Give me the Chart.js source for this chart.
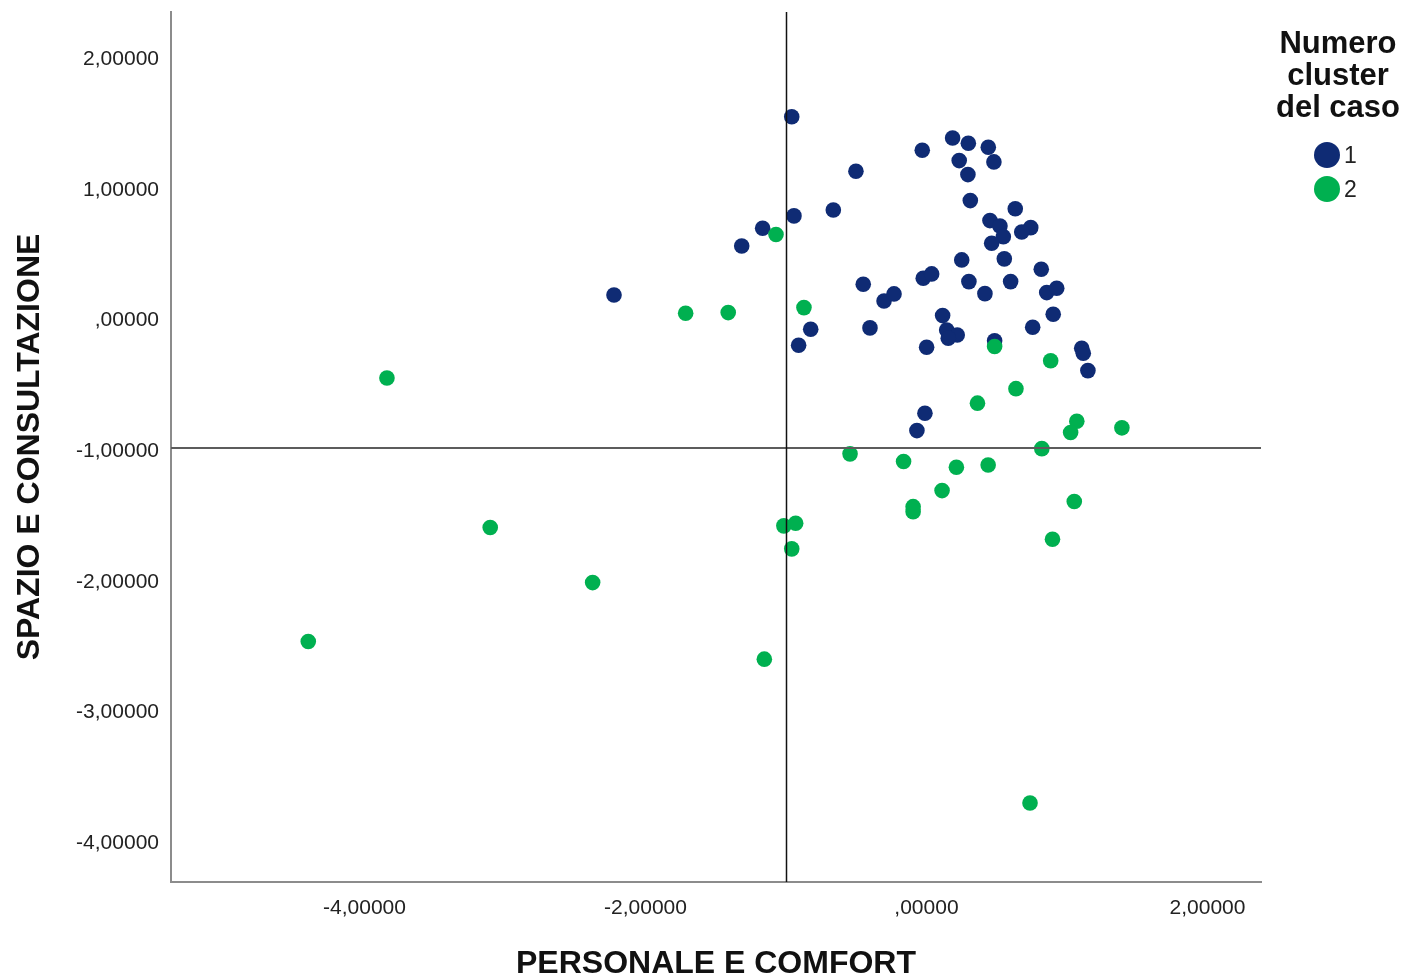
<!DOCTYPE html>
<html lang="it">
<head>
<meta charset="utf-8">
<title>Numero cluster del caso</title>
<script src="https://cdn.jsdelivr.net/npm/chart.js@4/dist/chart.umd.min.js"></script>
<style>
  html, body { margin: 0; padding: 0; background: #ffffff; }
  #wrap { position: relative; width: 1405px; height: 979px; }
  #chart { position: absolute; left: 0; top: 0; }
  #legend {
    position: absolute; left: 1264px; top: 27px; width: 148px;
    font-family: "Liberation Sans", Arial, sans-serif; color: #111;
  }
  #legend .title {
    font-weight: bold; font-size: 31px; line-height: 32px; text-align: center;
  }
  #legend .items { margin-top: 15px; margin-left: 50px; }
  #legend .item { display: flex; align-items: center; height: 34px; }
  #legend .dot { width: 26px; height: 26px; border-radius: 50%; margin-right: 4px; }
  #legend .lab { font-size: 23px; color: #222; }
</style>
</head>
<body>
<div id="wrap">
  <canvas id="chart" width="1405" height="979"></canvas>
  <div id="legend"></div>
</div>
<script>
// Cluster 1 cases: PERSONALE E COMFORT (x) / SPAZIO E CONSULTAZIONE (y)
const cluster1X = [-0.959, -0.502, -0.663, -0.943, -1.166, -1.315, -2.224, -0.030, 0.186, 0.298,
                   0.440, 0.233, 0.480, 0.295, 0.312, 0.632, 0.452, 0.523, 0.742, 0.678,
                   0.547, 0.464, 0.251, 0.554, -0.450, -0.302, -0.231, -0.023, 0.037, 0.302,
                   0.416, 0.599, 0.817, 0.856, 0.927, 0.115, 0.144, 0.219, 0.155, -0.402,
                   -0.824, -0.910, 0.001, 0.485, 0.756, 0.902, 1.105, 1.116, 1.149, -0.011,
                   -0.068];
const cluster1Y = [1.536, 1.119, 0.822, 0.777, 0.682, 0.547, 0.172, 1.279, 1.373, 1.333,
                   1.302, 1.200, 1.190, 1.093, 0.894, 0.832, 0.741, 0.700, 0.687, 0.654,
                   0.618, 0.568, 0.440, 0.448, 0.254, 0.126, 0.180, 0.300, 0.333, 0.274,
                   0.182, 0.274, 0.369, 0.190, 0.223, 0.014, -0.096, -0.134, -0.159, -0.080,
                   -0.090, -0.213, -0.228, -0.178, -0.075, 0.024, -0.236, -0.274, -0.407, -0.733,
                   -0.866];

// Cluster 2 cases
const cluster2X = [-1.071, -1.714, -1.411, -0.872, 0.485, 0.884, -3.840, 0.637, 0.363, 1.070,
                   1.026, 1.391, 0.821, -0.544, -0.163, 0.213, 0.439, 0.111, -0.095, -0.095,
                   1.052, 0.897, -1.015, -0.931, -0.959, -1.154, -3.105, -2.376, -4.400, 0.737];
const cluster2Y = [0.634, 0.032, 0.037, 0.075, -0.223, -0.331, -0.463, -0.545, -0.656, -0.794,
                   -0.881, -0.845, -1.004, -1.044, -1.103, -1.146, -1.129, -1.325, -1.448, -1.486,
                   -1.409, -1.697, -1.595, -1.575, -1.771, -2.615, -1.608, -2.029, -2.480, -3.715];

const clusterNames = ['1', '2'];
const clusterColors = ['#0f2b74', '#00b050'];

// Axis ticks and their SPSS-style labels
const xTickValues = [-4, -2, 0, 2];
const xTickLabels = ['-4,00000', '-2,00000', ',00000', '2,00000'];
const yTickValues = [2, 1, 0, -1, -2, -3, -4];
const yTickLabels = ['2,00000', '1,00000', ',00000', '-1,00000', '-2,00000', '-3,00000', '-4,00000'];

// Reference lines
const refX = -1;
const refY = -1;

const zip = (xs, ys) => xs.map((v, i) => ({ x: v, y: ys[i] }));

const refLines = {
  id: 'refLines',
  afterDatasetsDraw(chart) {
    const { ctx, chartArea: a, scales: { x, y } } = chart;
    const px = Math.round(x.getPixelForValue(refX)) + 0.5;
    const py = Math.round(y.getPixelForValue(refY));
    ctx.save();
    ctx.strokeStyle = '#5c5c5c';
    ctx.lineWidth = 2;
    ctx.beginPath(); ctx.moveTo(a.left, py); ctx.lineTo(a.right, py); ctx.stroke();
    ctx.strokeStyle = '#111111';
    ctx.lineWidth = 1.5;
    ctx.beginPath(); ctx.moveTo(px, a.top); ctx.lineTo(px, a.bottom); ctx.stroke();
    ctx.restore();
  }
};

const family = '"Liberation Sans", Arial, sans-serif';
const tickFont = { family, size: 21 };
const titleFont = { family, size: 32, weight: 'bold', lineHeight: 0.9 };

new Chart(document.getElementById('chart'), {
  type: 'scatter',
  data: {
    datasets: [
      {
        label: clusterNames[0], data: zip(cluster1X, cluster1Y), order: 2,
        backgroundColor: clusterColors[0], borderWidth: 0, pointRadius: 7.8, pointHoverRadius: 7.8
      },
      {
        label: clusterNames[1], data: zip(cluster2X, cluster2Y), order: 1,
        backgroundColor: clusterColors[1], borderWidth: 0, pointRadius: 7.8, pointHoverRadius: 7.8
      }
    ]
  },
  options: {
    responsive: false,
    devicePixelRatio: 1,
    animation: false,
    events: [],
    layout: { padding: { top: 12, right: 144, bottom: 0, left: 0 } },
    plugins: { legend: { display: false }, tooltip: { enabled: false } },
    scales: {
      x: {
        type: 'linear', min: -5.377, max: 2.381,
        afterBuildTicks: s => { s.ticks = xTickValues.map(v => ({ value: v })); },
        afterFit: s => { s.height = 97; s.paddingLeft = 0; s.paddingRight = 0; },
        grid: { display: false },
        border: { display: true, color: '#8c8c8c', width: 2 },
        ticks: {
          padding: 6, color: '#222', font: tickFont, maxRotation: 0, autoSkip: false,
          callback: v => xTickLabels[xTickValues.indexOf(v)]
        },
        title: { display: true, text: 'PERSONALE E COMFORT', color: '#111', font: titleFont, padding: { top: 0, bottom: 0 } }
      },
      y: {
        type: 'linear', min: -4.32, max: 2.337,
        afterBuildTicks: s => { s.ticks = yTickValues.map(v => ({ value: v })); },
        afterFit: s => { s.width = 171; s.paddingTop = 0; s.paddingBottom = 0; },
        grid: { display: false },
        border: { display: true, color: '#8c8c8c', width: 2 },
        ticks: {
          padding: 4, labelOffset: 3, color: '#222', font: tickFont, autoSkip: false,
          callback: v => yTickLabels[yTickValues.indexOf(v)]
        },
        title: { display: true, text: 'SPAZIO E CONSULTAZIONE', color: '#111', font: titleFont, padding: { top: 16, bottom: 0 } }
      }
    }
  },
  plugins: [refLines]
});

// Legend
const legend = document.getElementById('legend');
legend.innerHTML = '<div class="title">Numero<br>cluster<br>del caso</div><div class="items">' +
  clusterNames.map((n, i) =>
    '<div class="item"><span class="dot" style="background:' + clusterColors[i] + '"></span><span class="lab">' + n + '</span></div>'
  ).join('') + '</div>';
</script>
</body>
</html>
